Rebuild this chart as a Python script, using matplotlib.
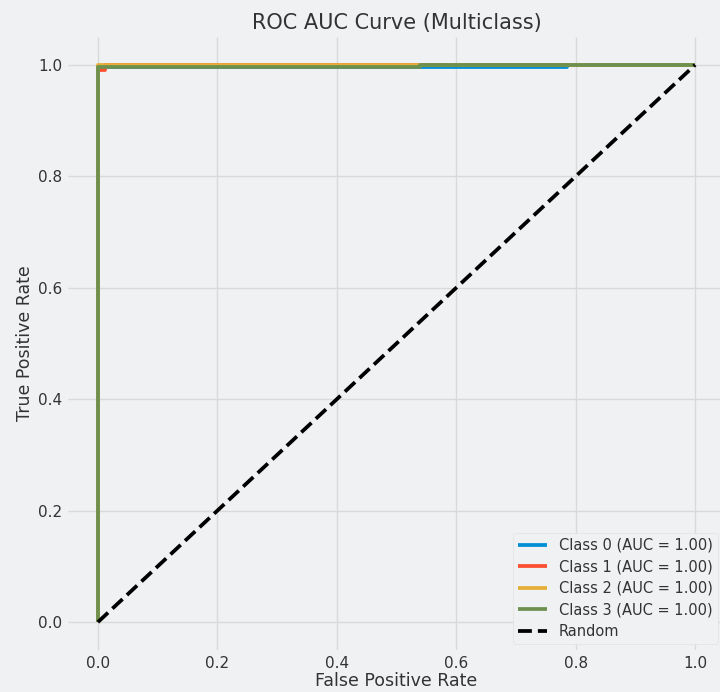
import matplotlib
matplotlib.use("Agg")
import matplotlib.pyplot as plt

# ROC points, one curve per class
fpr_0 = [0.0, 0.0, 0.786, 0.786, 1.0]
tpr_0 = [0.0, 0.996, 0.996, 1.0, 1.0]
fpr_1 = [0.0, 0.0, 0.001, 0.001, 0.012, 0.012, 1.0]
tpr_1 = [0.0, 0.12, 0.12, 0.99, 0.99, 1.0, 1.0]
fpr_2 = [0.0, 0.0, 1.0]
tpr_2 = [0.0, 1.0, 1.0]
fpr_3 = [0.0, 0.0, 0.54, 0.54, 1.0]
tpr_3 = [0.0, 0.997, 0.997, 1.0, 1.0]
aucs = [1.00, 1.00, 1.00, 1.00]
curves = [(fpr_0, tpr_0), (fpr_1, tpr_1), (fpr_2, tpr_2), (fpr_3, tpr_3)]
colors = ["#008fd5", "#fc4f30", "#e5ae38", "#6d904f"]

plt.style.use("fivethirtyeight")
plt.rcParams["font.family"] = ["DejaVu Sans"]
bg = "#f0f1f3"
txt = "#333333"

fig = plt.figure(figsize=(7.2, 6.92), dpi=100, facecolor=bg)
ax = fig.add_axes([68 / 720, 1 - 650 / 692, (725 - 68) / 720, (650 - 37) / 692])
ax.set_facecolor(bg)

for i, (fpr, tpr) in enumerate(curves):
    ax.plot(fpr, tpr, color=colors[i], lw=2.7,
            label="Class %d (AUC = %.2f)" % (i, aucs[i]))
ax.plot([0, 1], [0, 1], "k--", lw=2.7, label="Random")

ax.set_xlim(-0.05, 1.05)
ax.set_ylim(-0.05, 1.05)
ax.set_xticks([0, 0.2, 0.4, 0.6, 0.8, 1.0])
ax.set_yticks([0, 0.2, 0.4, 0.6, 0.8, 1.0])
ax.grid(True, color="#d9d9d9", lw=1)
ax.tick_params(labelsize=11, colors=txt, length=0, pad=4)
for s in ax.spines.values():
    s.set_visible(False)

ax.set_title("ROC AUC Curve (Multiclass)", fontsize=15, color=txt, pad=6)
ax.set_xlabel("False Positive Rate", fontsize=12.5, color=txt, labelpad=1)
ax.set_ylabel("True Positive Rate", fontsize=12.5, color=txt, labelpad=3)

leg = ax.legend(loc="lower right", bbox_to_anchor=(718 / 720, 1 - 644 / 692),
                bbox_transform=fig.transFigure, borderaxespad=0, fontsize=10.5,
                frameon=True, facecolor=bg, edgecolor="#e2e2e2", framealpha=1,
                labelspacing=0.45, handlelength=2.0, borderpad=0.35)
for t in leg.get_texts():
    t.set_color(txt)

fig.savefig("out.png", dpi=100, facecolor=bg)
